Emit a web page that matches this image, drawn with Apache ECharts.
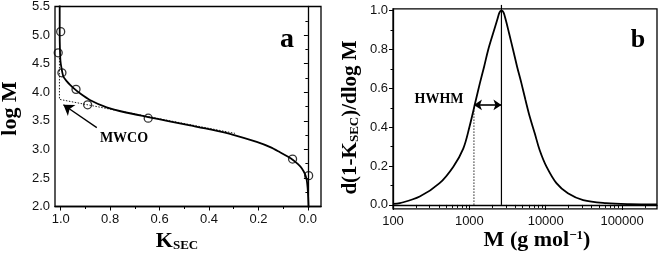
<!DOCTYPE html>
<html><head><meta charset="utf-8">
<script src="https://cdn.jsdelivr.net/npm/echarts@6/dist/echarts.min.js"></script>
<style>html,body{margin:0;padding:0;background:#fff}#c{width:661px;height:253px}</style>
</head><body><div id="c"></div>
<script>
// ---- Panel a data ----
const aFitK    = [1.004, 1.004, 1.003, 1.001, 0.997, 0.989, 0.975, 0.962, 0.942, 0.922, 0.882, 0.814, 0.736, 0.646, 0.560, 0.477, 0.390, 0.302, 0.207, 0.150, 0.113, 0.080, 0.059, 0.040, 0.025, 0.012, 0.005, 0.001, -0.001, -0.003];
const aFitLogM = [5.60, 5.00, 4.75, 4.55, 4.43, 4.27, 4.19, 4.13, 4.05, 3.98, 3.865, 3.735, 3.645, 3.565, 3.49, 3.42, 3.345, 3.255, 3.13, 3.035, 2.95, 2.87, 2.81, 2.74, 2.67, 2.57, 2.47, 2.32, 2.17, 1.95];
const aExpK    = [1.000, 1.010, 0.995, 0.938, 0.891, 0.646, 0.062, -0.003];
const aExpLogM = [5.06, 4.69, 4.34, 4.05, 3.78, 3.545, 2.83, 2.54];
const aCutK    = [1.005, 1.005, 0.295];
const aCutLogM = [4.60, 3.875, 3.28];
const aArrowFrom = [0.854, 3.38];
const aArrowTo   = [0.989, 3.78];
const aXTicks = [0.0, 0.2, 0.4, 0.6, 0.8, 1.0];
const aXMinor = [0.1, 0.3, 0.5, 0.7, 0.9];

// ---- Panel b data ----
const bLogM  = [2.00, 2.09, 2.35, 2.61, 2.79, 2.92, 3.00, 3.085, 3.137, 3.193, 3.246, 3.311, 3.364, 3.395, 3.421, 3.447, 3.477, 3.52, 3.573, 3.625, 3.682, 3.735, 3.79, 3.856, 3.92, 4.01, 4.14, 4.29, 4.49, 4.79, 5.10, 5.457];
const bValue = [0.005, 0.009, 0.043, 0.112, 0.197, 0.29, 0.40, 0.54, 0.626, 0.712, 0.798, 0.884, 0.952, 0.991, 1.0, 0.991, 0.952, 0.884, 0.798, 0.712, 0.626, 0.54, 0.455, 0.369, 0.283, 0.197, 0.112, 0.06, 0.025, 0.009, 0.004, 0.003];
const bPeakLogM = 3.42;
const bHalfLogM = 3.06;
const bHalfValue = 0.50;
const bArrowValue = 0.515;
const bXTicks = [2, 3, 4, 5];
const bXTickLabels = ['100', '1000', '10000', '100000'];
const bYTicks = [0, 0.2, 0.4, 0.6, 0.8, 1.0];
const bYMinor = [0.1, 0.3, 0.5, 0.7, 0.9];
const bXMinor = [];
for (let e = 2; e <= 5; e++) for (let k = 2; k <= 9; k++) { const v = e + Math.log10(k); if (v < 5.457) bXMinor.push(v); }

const pair = (xs, ys) => xs.map((x, i) => [x, ys[i]]);
const SANS = 'Liberation Sans', SERIF = 'Liberation Serif';
const BLK = '#000';
const lbl = {fontFamily: SANS, fontSize: 13, color: '#111'};

const chart = echarts.init(document.getElementById('c'), null, {renderer: 'canvas'});
chart.setOption({
  animation: false,
  grid: [
    {left: 55, top: 6.5, width: 266, height: 200, show: true, borderColor: BLK, borderWidth: 1.3, backgroundColor: 'transparent'},
    {left: 393, top: 8.8, width: 264, height: 200, show: true, borderColor: BLK, borderWidth: 1.3, backgroundColor: 'transparent'}
  ],
  xAxis: [
    {gridIndex: 0, type: 'value', inverse: true, min: -0.053, max: 1.023,
     axisLine: {show: true, lineStyle: {color: BLK, width: 1.3}},
     axisTick: {show: true, length: 4, customValues: aXTicks, lineStyle: {color: BLK}},
     axisLabel: Object.assign({customValues: aXTicks, margin: 6, formatter: v => v.toFixed(1)}, lbl),
     splitLine: {show: false}},
    {gridIndex: 0, type: 'value', inverse: true, min: -0.053, max: 1.023, position: 'bottom',
     axisLine: {show: false}, axisTick: {show: true, length: 2.5, customValues: aXMinor, lineStyle: {color: BLK}},
     axisLabel: {show: false}, splitLine: {show: false}},
    {gridIndex: 1, type: 'value', min: 2, max: 5.457,
     axisLine: {show: true, lineStyle: {color: BLK, width: 1.3}},
     axisTick: {show: true, length: 5, customValues: bXTicks, lineStyle: {color: BLK}},
     axisLabel: Object.assign({customValues: bXTicks, margin: 6, formatter: v => bXTickLabels[bXTicks.indexOf(Math.round(v))] || ''}, lbl),
     splitLine: {show: false}},
    {gridIndex: 1, type: 'value', min: 2, max: 5.457, position: 'bottom',
     axisLine: {show: false}, axisTick: {show: true, length: 3, customValues: bXMinor, lineStyle: {color: BLK}},
     axisLabel: {show: false}, splitLine: {show: false}}
  ],
  yAxis: [
    {gridIndex: 0, type: 'value', min: 2, max: 5.5, interval: 0.5,
     axisLine: {show: true, lineStyle: {color: BLK, width: 1.3}},
     axisTick: {show: true, length: 4, lineStyle: {color: BLK}},
     minorTick: {show: true, splitNumber: 2, length: 2.5, lineStyle: {color: BLK}},
     axisLabel: Object.assign({margin: 5, formatter: v => v.toFixed(1)}, lbl),
     splitLine: {show: false}},
    {gridIndex: 1, type: 'value', min: -0.02, max: 1.01,
     axisLine: {show: true, lineStyle: {color: BLK, width: 1.3}},
     axisTick: {show: true, length: 4, customValues: bYTicks, lineStyle: {color: BLK}},
     axisLabel: Object.assign({customValues: bYTicks, margin: 5, formatter: v => v.toFixed(1)}, lbl),
     splitLine: {show: false}},
    {gridIndex: 1, type: 'value', min: -0.02, max: 1.01, position: 'left',
     axisLine: {show: false}, axisTick: {show: true, length: 2.5, customValues: bYMinor, lineStyle: {color: BLK}},
     axisLabel: {show: false}, splitLine: {show: false}}
  ],
  series: [
    {type: 'line', xAxisIndex: 0, yAxisIndex: 0, data: pair(aFitK, aFitLogM), smooth: 0.25, showSymbol: false,
     lineStyle: {color: BLK, width: 1.8}, z: 3},
    {type: 'line', xAxisIndex: 0, yAxisIndex: 0, data: pair(aCutK, aCutLogM), showSymbol: false,
     lineStyle: {color: '#222', width: 1, type: [1.5, 1.5]}, z: 2,
     markLine: {silent: true, symbol: ['none', 'arrow'], symbolSize: 10, label: {show: false},
       lineStyle: {color: BLK, width: 1.3, type: 'solid'},
       data: [[{coord: aArrowFrom}, {coord: aArrowTo}]]}},
    {type: 'scatter', xAxisIndex: 0, yAxisIndex: 0, data: pair(aExpK, aExpLogM), symbol: 'circle', symbolSize: 8,
     itemStyle: {color: 'transparent', borderColor: BLK, borderWidth: 1.3}, z: 4},
    {type: 'line', xAxisIndex: 2, yAxisIndex: 1, data: pair(bLogM, bValue), smooth: 0.35, showSymbol: false,
     lineStyle: {color: BLK, width: 1.8}, z: 3},
    {type: 'line', xAxisIndex: 2, yAxisIndex: 1, data: [[bPeakLogM, 0], [bPeakLogM, 1.03]], showSymbol: false, clip: false,
     lineStyle: {color: BLK, width: 1.2}, z: 2},
    {type: 'line', xAxisIndex: 2, yAxisIndex: 1, data: [[bHalfLogM, 0], [bHalfLogM, bHalfValue]], showSymbol: false,
     lineStyle: {color: '#222', width: 1, type: [1.5, 1.5]}, z: 2,
     markLine: {silent: true, symbol: ['arrow', 'arrow'], symbolSize: 8, label: {show: false},
       lineStyle: {color: BLK, width: 1.6, type: 'solid'},
       data: [[{coord: [bHalfLogM, bArrowValue]}, {coord: [bPeakLogM, bArrowValue]}]]}}
  ],
  graphic: [
    {type: 'text', x: 287, y: 40, style: {text: 'a', font: 'bold 28px "Liberation Serif"', fill: BLK, align: 'center', verticalAlign: 'middle'}},
    {type: 'text', x: 638, y: 40, style: {text: 'b', font: 'bold 26px "Liberation Serif"', fill: BLK, align: 'center', verticalAlign: 'middle'}},
    {type: 'text', x: 124, y: 138, style: {text: 'MWCO', font: 'bold 14px "Liberation Serif"', fill: BLK, align: 'center', verticalAlign: 'middle'}},
    {type: 'text', x: 439, y: 99, style: {text: 'HWHM', font: 'bold 14px "Liberation Serif"', fill: BLK, align: 'center', verticalAlign: 'middle'}},
    {type: 'text', x: 10, y: 108.5, rotation: Math.PI / 2, style: {text: 'log M', font: 'bold 22px "Liberation Serif"', fill: BLK, align: 'center', verticalAlign: 'middle'}},
    {type: 'text', x: 350, y: 117.5, rotation: Math.PI / 2, style: {
      text: '{m|d(1-K}{s|SEC}{m|)/dlog M}', align: 'center', verticalAlign: 'middle',
      rich: {m: {fontFamily: SERIF, fontWeight: 'bold', fontSize: 21, fill: BLK, verticalAlign: 'bottom', lineHeight: 22},
             s: {fontFamily: SERIF, fontWeight: 'bold', fontSize: 13, fill: BLK, verticalAlign: 'bottom', lineHeight: 18}}}},
    {type: 'text', x: 177, y: 241, style: {
      text: '{m|K}{s|SEC}', align: 'center', verticalAlign: 'middle',
      rich: {m: {fontFamily: SERIF, fontWeight: 'bold', fontSize: 22, fill: BLK, verticalAlign: 'bottom', lineHeight: 22},
             s: {fontFamily: SERIF, fontWeight: 'bold', fontSize: 13, fill: BLK, verticalAlign: 'bottom', lineHeight: 18}}}},
    {type: 'text', x: 537, y: 240, style: {
      text: '{m|M (g mol}{p|−1}{m|)}', align: 'center', verticalAlign: 'middle',
      rich: {m: {fontFamily: SERIF, fontWeight: 'bold', fontSize: 22, fill: BLK, verticalAlign: 'bottom', lineHeight: 22},
             p: {fontFamily: SERIF, fontWeight: 'bold', fontSize: 13, fill: BLK, verticalAlign: 'top', lineHeight: 22}}}}
  ]
});
</script></body></html>
